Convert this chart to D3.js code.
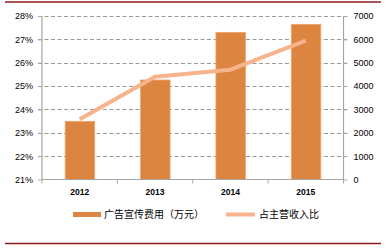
<!DOCTYPE html>
<html><head><meta charset="utf-8">
<script src="https://cdn.jsdelivr.net/npm/d3@7"></script>
<style>
html,body{margin:0;padding:0;background:#fff;}
svg{display:block;}
text{font-family:Arial,"Liberation Sans","Noto Sans CJK SC",sans-serif;fill:#000;}
</style></head>
<body>
<svg id="c" width="387" height="248"></svg>
<script>
const years = ["2012","2013","2014","2015"];
const adCost = [2490, 4260, 6300, 6640];          // 广告宣传费用（万元）
const ratio = [23.58, 25.40, 25.70, 26.95];        // 占主营收入比 (%)
const leftTicks = [21,22,23,24,25,26,27,28];
const rightTicks = [0,1000,2000,3000,4000,5000,6000,7000];
const legendNames = ["广告宣传费用（万元）","占主营收入比"];

const svg = d3.select("#c");
const L = 42, R = 343.5, T = 16, B = 179.5;

const x = d3.scaleBand().domain(years).range([L, R]);
const yL = d3.scaleLinear().domain([21,28]).range([B, T]);
const yR = d3.scaleLinear().domain([0,7000]).range([B, T]);

// frame red lines
svg.append("line").attr("x1",5).attr("x2",381).attr("y1",2).attr("y2",2)
  .attr("stroke","#8B1A1A").attr("stroke-width",1.5);
svg.append("line").attr("x1",5).attr("x2",381).attr("y1",243.5).attr("y2",243.5)
  .attr("stroke","#8B1A1A").attr("stroke-width",1.5);

// gridlines
svg.append("g").selectAll("line").data(leftTicks.filter(d=>d>21)).join("line")
  .attr("x1",38).attr("x2",347)
  .attr("y1",d=>Math.round(yL(d))+0.5).attr("y2",d=>Math.round(yL(d))+0.5)
  .attr("stroke","#9a9a9a").attr("stroke-width",1).attr("stroke-dasharray","4,2.5");

// bars
svg.append("g").selectAll("rect").data(years).join("rect")
  .attr("x",d=>x(d)+x.bandwidth()/2-14.5)
  .attr("width",29.5)
  .attr("y",(d,i)=>yR(adCost[i]))
  .attr("height",(d,i)=>B-yR(adCost[i]))
  .attr("fill","#DB8540").attr("stroke","#EFA56A").attr("stroke-width",0.8);

// axes
const axCol = "#a6a6a6";
const gl = svg.append("g").attr("transform",`translate(${L},0)`)
  .call(d3.axisLeft(yL).tickValues(leftTicks).tickSize(4).tickPadding(5).tickFormat(d=>d+"%"));
const gr = svg.append("g").attr("transform",`translate(${R},0)`)
  .call(d3.axisRight(yR).tickValues(rightTicks).tickSize(4).tickPadding(6).tickFormat(d=>d));
const gb = svg.append("g").attr("transform",`translate(0,${B})`)
  .call(d3.axisBottom(x).tickSize(0).tickPadding(9));
[gl,gr,gb].forEach(g=>{
  g.select(".domain").attr("stroke",axCol).attr("stroke-width",1.2);
  g.selectAll(".tick line").attr("stroke",axCol);
  g.selectAll("text").attr("font-size",9).attr("fill","#000")
    .style("font-family","Arial,'Liberation Sans',sans-serif");
});
gl.select(".domain").attr("d",`M0,${T}V${B}`);
gr.select(".domain").attr("d",`M0,${T}V${B}`);
gb.select(".domain").attr("d",`M${L},0H${R}`);
gb.selectAll("text").attr("font-weight","bold").attr("font-size",8.5);
// bottom boundary ticks
svg.append("g").selectAll("line").data(d3.range(years.length+1)).join("line")
  .attr("x1",i=>L+i*x.step()).attr("x2",i=>L+i*x.step())
  .attr("y1",B).attr("y2",B+4).attr("stroke",axCol);

// line
const line = d3.line().x((d,i)=>x(years[i])+x.bandwidth()/2).y(d=>yL(d));
svg.append("path").datum(ratio).attr("d",line)
  .attr("fill","none").attr("stroke","#F7B38B").attr("stroke-width",4)
  .attr("stroke-linejoin","round");

// legend
const lg = svg.append("g");
lg.append("rect").attr("x",73).attr("y",212).attr("width",28).attr("height",5).attr("fill","#DB8540");
lg.append("text").attr("x",104).attr("y",218).attr("font-size",10)
  .style("font-family","'Noto Sans CJK SC',sans-serif").text(legendNames[0]);
lg.append("line").attr("x1",226).attr("x2",255).attr("y1",214.5).attr("y2",214.5)
  .attr("stroke","#F7B38B").attr("stroke-width",4);
lg.append("text").attr("x",259).attr("y",218).attr("font-size",10)
  .style("font-family","'Noto Sans CJK SC',sans-serif").text(legendNames[1]);
</script>
</body></html>
